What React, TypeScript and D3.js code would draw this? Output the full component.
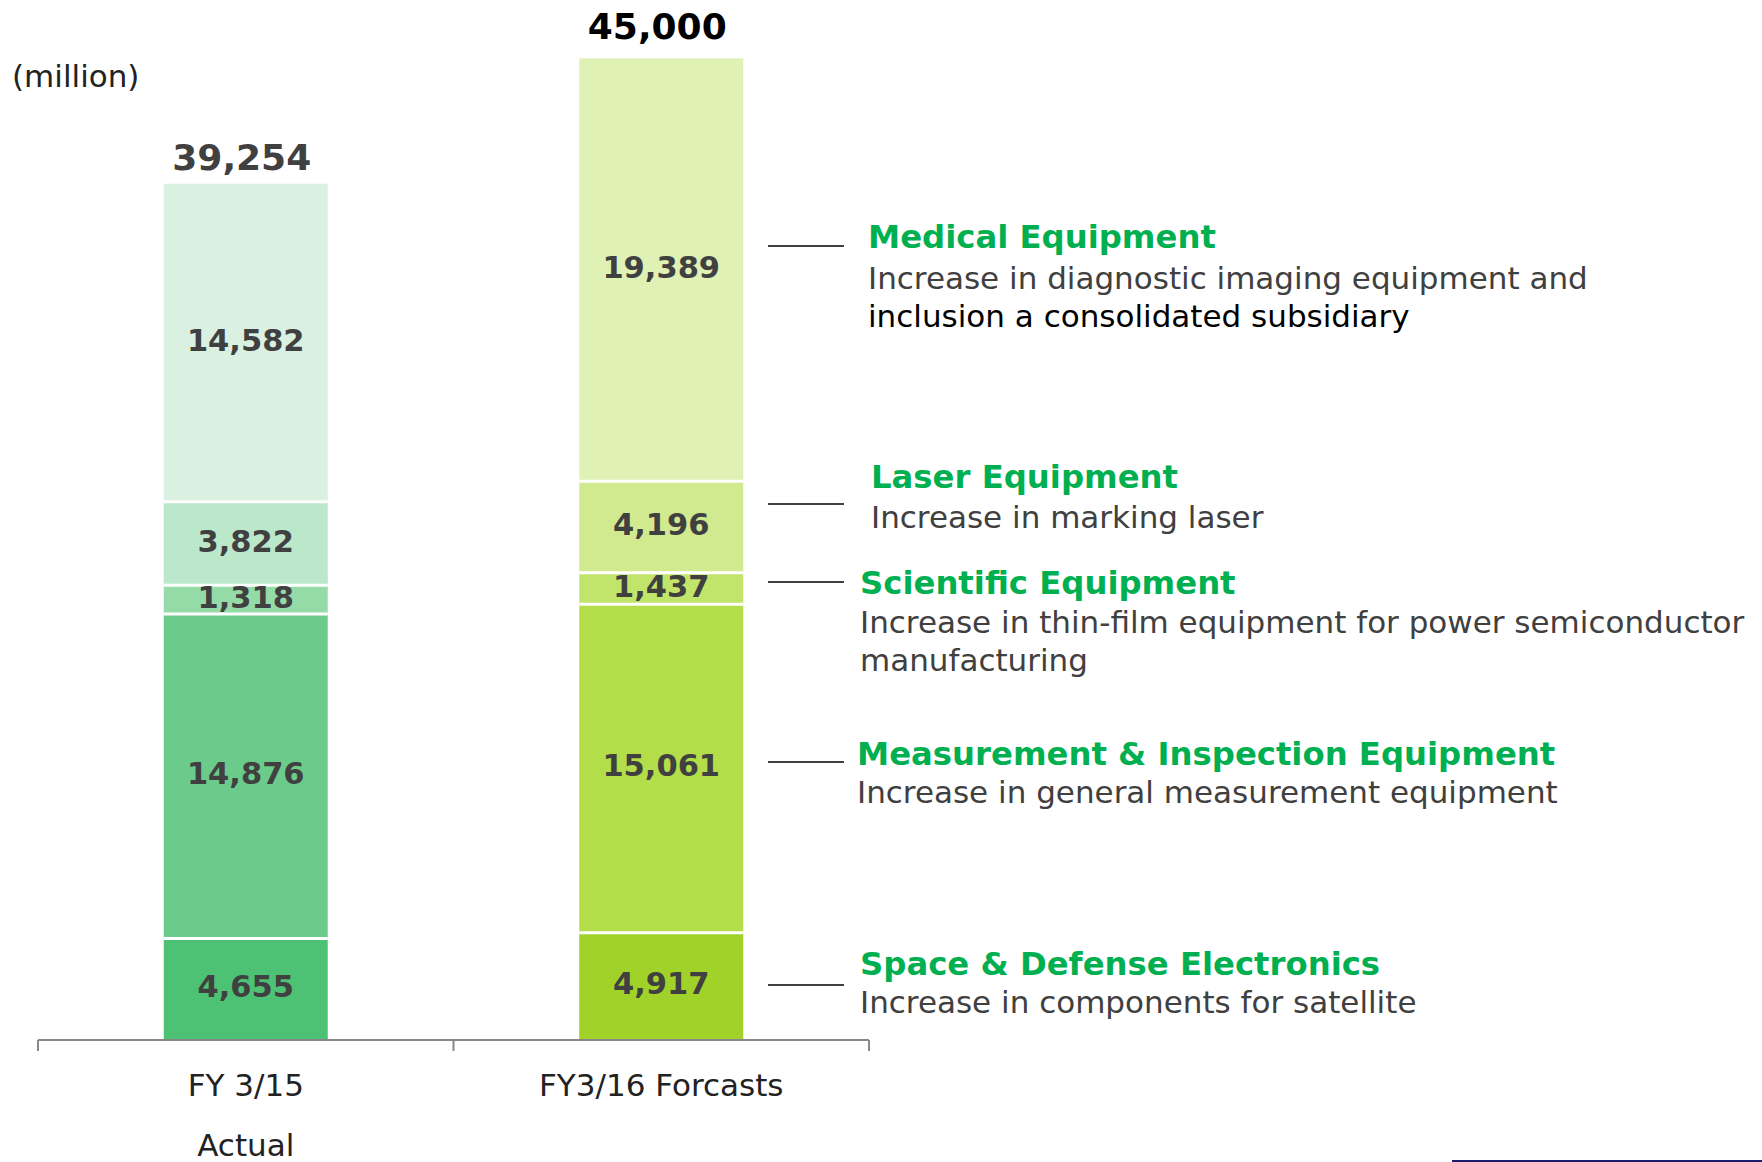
import React from "react";
import * as d3 from "d3";

const categories = ["FY 3/15", "FY3/16 Forcasts"];
const categorySubLabels = ["Actual", ""];
const segments = ["Space & Defense Electronics", "Measurement & Inspection Equipment", "Scientific Equipment", "Laser Equipment", "Medical Equipment"];
const actualValues = [4655, 14876, 1318, 3822, 14582];
const forecastValues = [4917, 15061, 1437, 4196, 19389];
const totals = [39254, 45000];
const actualColors = ["#4ec274", "#6bcb8b", "#95dba8", "#bbe8cb", "#daf1e1"];
const forecastColors = ["#a0d22a", "#b3de4a", "#c1e56a", "#d1ea90", "#dff1b5"];
const annotationTitles = ["Space & Defense Electronics", "Measurement & Inspection Equipment", "Scientific Equipment", "Laser Equipment", "Medical Equipment"];
const annotationLines = [
  [["Increase in components for satellite", "#404040"]],
  [["Increase in general measurement equipment", "#404040"]],
  [["Increase in thin-film equipment for power semiconductor", "#404040"], ["manufacturing", "#404040"]],
  [["Increase in marking laser", "#404040"]],
  [["Increase in diagnostic imaging equipment and", "#404040"], ["inclusion a consolidated subsidiary", "#000000"]],
];

const W = 1762;
const H = 1162;
const FONT = "'DejaVu Sans', Verdana, sans-serif";

export default function App() {
  const y = d3.scaleLinear().domain([0, 45000]).range([1040, 58.4]);
  const x = d3.scaleBand<string>().domain(categories).range([38, 869]).padding(0);
  const barW = 164;
  const series = [actualValues, forecastValues];
  const colors = [actualColors, forecastColors];
  const totalOffsets = [14, 19];

  const annLineY = [985, 762, 582, 504, 246];
  const annTitleY = [975, 765, 594, 488, 248];
  const annX = [860, 857, 860, 871, 868];
  const descFirstGap = [38, 38, 39, 40, 41];
  const descLineGap = 38;

  return (
    <svg width={W} height={H} style={{ position: "absolute", left: 0, top: 0, background: "#fff" }} fontFamily={FONT}>
      <rect x={0} y={0} width={W} height={H} fill="#fff" />
      <text x={12} y={87} fontSize={31} fill="#222">(million)</text>

      {categories.map((c, ci) => {
        const cx = (x(c) as number) + x.bandwidth() / 2;
        const vals = series[ci];
        const stacks: { y0: number; y1: number; v: number; col: string }[] = [];
        let acc = 0;
        vals.forEach((v, i) => {
          stacks.push({ y0: acc, y1: acc + v, v, col: colors[ci][i] });
          acc += v;
        });
        return (
          <g key={c}>
            {stacks.map((s, i) => (
              <rect key={i} x={cx - barW / 2} y={y(s.y1)} width={barW} height={y(s.y0) - y(s.y1)} fill={s.col} />
            ))}
            {stacks.slice(0, -1).map((s, i) => (
              <line key={"sep" + i} x1={cx - barW / 2} x2={cx + barW / 2} y1={y(s.y1)} y2={y(s.y1)} stroke="#fff" strokeWidth={3} />
            ))}
            {stacks.map((s, i) => (
              <text key={"t" + i} x={cx} y={(y(s.y0) + y(s.y1)) / 2 + 8} textAnchor="middle" fontSize={30.5} fontWeight="bold" fill="#404040">
                {d3.format(",")(s.v)}
              </text>
            ))}
            <text x={cx - 4} y={y(totals[ci]) - totalOffsets[ci]} textAnchor="middle" fontSize={36} fontWeight="bold" fill={ci === 0 ? "#404040" : "#000"}>
              {d3.format(",")(totals[ci])}
            </text>
            <text x={cx} y={1096} textAnchor="middle" fontSize={31} fill="#222">{c}</text>
            {categorySubLabels[ci] && (
              <text x={cx} y={1156} textAnchor="middle" fontSize={31} fill="#222">{categorySubLabels[ci]}</text>
            )}
          </g>
        );
      })}

      <line x1={38} x2={869} y1={1040} y2={1040} stroke="#888" strokeWidth={2} />
      {[38, ...categories.map((c) => (x(c) as number) + x.bandwidth())].map((tx, i) => (
        <line key={i} x1={tx} x2={tx} y1={1040} y2={1051} stroke="#888" strokeWidth={2} />
      ))}

      {segments.map((s, i) => (
        <g key={s}>
          <line x1={768} x2={844} y1={annLineY[i]} y2={annLineY[i]} stroke="#404040" strokeWidth={2} />
          <text x={annX[i]} y={annTitleY[i]} fontSize={32.3} fontWeight="bold" fill="#00b050">{annotationTitles[i]}</text>
          {annotationLines[i].map((ln, j) => (
            <text key={j} x={annX[i]} y={annTitleY[i] + descFirstGap[i] + j * descLineGap} fontSize={31} fill={ln[1]}>{ln[0]}</text>
          ))}
        </g>
      ))}

      <line x1={1452} x2={1762} y1={1161} y2={1161} stroke="#1a1f6b" strokeWidth={2} />
    </svg>
  );
}
